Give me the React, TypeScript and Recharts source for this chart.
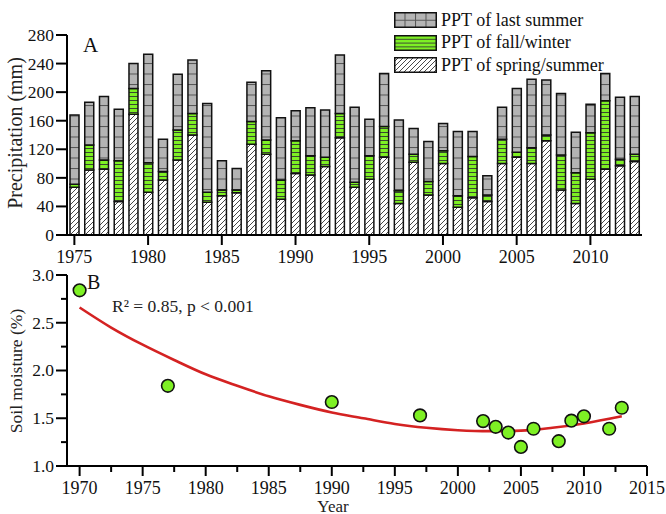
import React from "react";
import {
  BarChart,
  Bar,
  XAxis,
  YAxis,
  Legend,
  ComposedChart,
  Scatter,
  Line,
} from "recharts";

// panel A: seasonal precipitation (mm), stacked
const years = [
  1975, 1976, 1977, 1978, 1979, 1980, 1981, 1982, 1983, 1984, 1985, 1986, 1987,
  1988, 1989, 1990, 1991, 1992, 1993, 1994, 1995, 1996, 1997, 1998, 1999, 2000,
  2001, 2002, 2003, 2004, 2005, 2006, 2007, 2008, 2009, 2010, 2011, 2012, 2013,
];
const springSummer = [
  67, 91, 92, 47, 169, 60, 77, 105, 140, 46, 55, 59, 127, 113, 50, 86, 84, 96,
  136, 67, 78, 109, 44, 102, 56, 100, 39, 52, 47, 100, 109, 100, 132, 63, 44, 78,
  92, 97, 103,
];
const fallWinter = [
  4, 35, 13, 57, 36, 41, 12, 42, 30, 14, 8, 4, 32, 20, 27, 46, 27, 13, 34, 7, 33,
  43, 18, 11, 19, 18, 16, 58, 9, 34, 7, 22, 8, 49, 43, 65, 96, 9, 10,
];
const lastSummer = [
  97, 60, 89, 72, 35, 152, 45, 78, 75, 124, 41, 30, 55, 97, 87, 42, 67, 66, 82,
  105, 51, 74, 99, 36, 56, 38, 90, 35, 27, 45, 89, 96, 77, 86, 57, 40, 38, 87, 81,
];
const precipTicks = [0, 40, 80, 120, 160, 200, 240, 280];
const seriesNames = {
  lastSummer: "PPT of last summer",
  fallWinter: "PPT of fall/winter",
  springSummer: "PPT of spring/summer",
};
const legendOrder = ["lastSummer", "fallWinter", "springSummer"];

// panel B: soil moisture (%) and the fitted curve
const smYears = [
  1970, 1977, 1990, 1997, 2002, 2003, 2004, 2005, 2006, 2008, 2009, 2010, 2012,
  2013,
];
const smValues = [
  2.84, 1.84, 1.67, 1.53, 1.47, 1.41, 1.35, 1.2, 1.39, 1.26, 1.475, 1.52, 1.39,
  1.61,
];
const fitYears = [
  1970, 1972.5, 1975, 1977.5, 1980, 1982.5, 1985, 1987.5, 1990, 1992.5, 1995,
  1997.5, 2000, 2002.5, 2005, 2007.5, 2010, 2013,
];
const fitValues = [
  2.66, 2.45, 2.27, 2.11, 1.96, 1.84, 1.73, 1.64, 1.56, 1.5, 1.44, 1.4, 1.375,
  1.365, 1.37, 1.4, 1.445, 1.52,
];
const yearTicks = [
  1970, 1972.5, 1975, 1977.5, 1980, 1982.5, 1985, 1987.5, 1990, 1992.5, 1995,
  1997.5, 2000, 2002.5, 2005, 2007.5, 2010, 2012.5, 2015,
];
const smTicks = [1, 1.25, 1.5, 1.75, 2, 2.25, 2.5, 2.75, 3];

const SERIF = { fontFamily: "Liberation Serif, Times New Roman, serif" };
const GREEN = "#7ef024";

const barData = years.map((year, i) => ({
  year,
  springSummer: springSummer[i],
  fallWinter: fallWinter[i],
  lastSummer: lastSummer[i],
}));
const smData = smYears.map((year, i) => ({ year, sm: smValues[i] }));
const fitData = fitYears.map((year, i) => ({ year, fit: fitValues[i] }));

// ticks are drawn by hand so the tick marks and labels sit where the figure has them
function BottomTick({ x, y, payload, minor }: any) {
  const v = payload.value;
  const isMinor = minor && v % 5 !== 0;
  return (
    <g>
      <line x1={x} x2={x} y1={y} y2={y + (isMinor ? 6 : 10)} stroke="#000" strokeWidth={2} />
      {!isMinor && (
        <text x={x} y={y + 28} textAnchor="middle" style={SERIF} fontSize={18} fill="#111">
          {v}
        </text>
      )}
    </g>
  );
}

function LeftTick({ x, y, payload, fmt, minorStep }: any) {
  const v = payload.value;
  const isMinor = minorStep ? Math.abs((v / minorStep) % 2) > 0.01 : false;
  return (
    <g>
      <line x1={x} x2={x - (isMinor ? 6 : 11)} y1={y} y2={y} stroke="#000" strokeWidth={2} />
      {!isMinor && (
        <text x={x - 13} y={y} dy="0.34em" textAnchor="end" style={SERIF} fontSize={17.5} fill="#111">
          {fmt ? fmt(v) : v}
        </text>
      )}
    </g>
  );
}

const legendPattern: Record<string, string> = {
  lastSummer: "url(#lgGrid)",
  fallWinter: "url(#lgGreen)",
  springSummer: "url(#hatch)",
};

function PatternLegend({ payload }: any) {
  const items = [...(payload || [])].sort(
    (a: any, b: any) => legendOrder.indexOf(a.dataKey) - legendOrder.indexOf(b.dataKey)
  );
  return (
    <div style={{ ...SERIF, fontSize: 18, color: "#111" }}>
      {items.map((item: any) => (
        <div key={item.dataKey} style={{ display: "flex", alignItems: "center", height: 22.5 }}>
          <svg width={43} height={16} style={{ marginRight: 4 }}>
            <rect x={0.75} y={0.75} width={41.5} height={14.5} fill={legendPattern[item.dataKey]} stroke="#111" strokeWidth={1.5} />
          </svg>
          <span>{item.value}</span>
        </div>
      ))}
    </div>
  );
}

function SoilDot({ cx, cy }: any) {
  return <circle cx={cx} cy={cy} r={6.3} fill={GREEN} stroke="#111" strokeWidth={1.6} />;
}

export default function App() {
  return (
    <div style={{ position: "absolute", left: 0, top: 0, width: 666, height: 514, background: "#fff" }}>
      <div style={{ position: "absolute", left: 0, top: 0 }}>
        <BarChart
          width={666}
          height={272}
          data={barData}
          margin={{ top: 35, right: 24, bottom: 0, left: 0 }}
          barSize={9}
        >
          <defs>
            <pattern id="hatch" patternUnits="userSpaceOnUse" width={5} height={5}>
              <rect width={5} height={5} fill="#fff" />
              <path d="M0,5 L5,0 M-1.25,1.25 L1.25,-1.25 M3.75,6.25 L6.25,3.75" stroke="#333" strokeWidth={0.9} />
            </pattern>
            <pattern id="green" patternUnits="userSpaceOnUse" width={4} height={4}>
              <rect width={4} height={4} fill={GREEN} />
              <line x1={0} x2={4} y1={0.5} y2={0.5} stroke="#333" strokeWidth={0.9} />
            </pattern>
            <pattern id="gray" patternUnits="userSpaceOnUse" width={10} height={10.5}>
              <rect width={10} height={10.5} fill="#b4b4b4" />
              <line x1={0} x2={10} y1={0.5} y2={0.5} stroke="#555" strokeWidth={1} />
            </pattern>
            <pattern id="lgGrid" patternUnits="userSpaceOnUse" width={10.5} height={7.75}>
              <rect width={10.5} height={7.75} fill="#b4b4b4" />
              <path d="M0,0.5 L10.5,0.5 M0.5,0 L0.5,7.75" stroke="#555" strokeWidth={1} />
            </pattern>
            <pattern id="lgGreen" patternUnits="userSpaceOnUse" width={4} height={3.8}>
              <rect width={4} height={3.8} fill={GREEN} />
              <line x1={0} x2={4} y1={0.5} y2={0.5} stroke="#333" strokeWidth={0.9} />
            </pattern>
          </defs>
          <XAxis
            dataKey="year"
            interval={4}
            height={37}
            tickLine={false}
            tickSize={0}
            tickMargin={0}
            axisLine={{ stroke: "#000", strokeWidth: 2 }}
            tick={<BottomTick />}
          />
          <YAxis
            domain={[0, 280]}
            ticks={precipTicks}
            interval={0}
            width={67}
            tickLine={false}
            tickSize={0}
            tickMargin={0}
            axisLine={{ stroke: "#000", strokeWidth: 2 }}
            tick={<LeftTick />}
          />
          <Legend
            layout="vertical"
            align="center"
            verticalAlign="middle"
            wrapperStyle={{ top: 9, left: 394, width: 272, height: 70 }}
            content={<PatternLegend />}
          />
          <Bar dataKey="springSummer" name={seriesNames.springSummer} stackId="a" fill="url(#hatch)" stroke="#111" strokeWidth={1.5} isAnimationActive={false} />
          <Bar dataKey="fallWinter" name={seriesNames.fallWinter} stackId="a" fill="url(#green)" stroke="#111" strokeWidth={1.5} isAnimationActive={false} />
          <Bar dataKey="lastSummer" name={seriesNames.lastSummer} stackId="a" fill="url(#gray)" stroke="#111" strokeWidth={1.5} isAnimationActive={false} />
          <text x={83} y={52} style={SERIF} fontSize={21} fill="#111">A</text>
          <text
            x={22}
            y={133}
            transform="rotate(-90 22 133)"
            textAnchor="middle"
            style={SERIF}
            fontSize={20}
            fill="#222"
          >
            Precipitation (mm)
          </text>
        </BarChart>
      </div>

      <div style={{ position: "absolute", left: 0, top: 250 }}>
        <ComposedChart
          width={666}
          height={264}
          margin={{ top: 25, right: 19, bottom: 0, left: 0 }}
        >
          <XAxis
            dataKey="year"
            type="number"
            domain={[1969, 2015]}
            ticks={yearTicks}
            interval={0}
            height={48}
            tickLine={false}
            tickSize={0}
            tickMargin={0}
            axisLine={{ stroke: "#000", strokeWidth: 2 }}
            tick={<BottomTick minor />}
          />
          <YAxis
            type="number"
            domain={[1, 3]}
            ticks={smTicks}
            interval={0}
            width={67}
            tickLine={false}
            tickSize={0}
            tickMargin={0}
            axisLine={{ stroke: "#000", strokeWidth: 2 }}
            tick={<LeftTick minorStep={0.25} fmt={(v: number) => v.toFixed(1)} />}
          />
          <Line
            data={fitData}
            dataKey="fit"
            type="monotone"
            stroke="#d42222"
            strokeWidth={2.6}
            dot={false}
            activeDot={false}
            isAnimationActive={false}
          />
          <Scatter data={smData} dataKey="sm" shape={<SoilDot />} isAnimationActive={false} />
          <text x={87} y={39} style={SERIF} fontSize={20} fill="#111">B</text>
          <text x={112} y={62} style={SERIF} fontSize={17.5} fill="#222">
            R² = 0.85, p &lt; 0.001
          </text>
          <text
            x={22}
            y={121}
            transform="rotate(-90 22 121)"
            textAnchor="middle"
            style={SERIF}
            fontSize={17.5}
            fill="#222"
          >
            Soil moisture (%)
          </text>
          <text x={333} y={262} textAnchor="middle" style={SERIF} fontSize={17} fill="#222">
            Year
          </text>
        </ComposedChart>
      </div>
    </div>
  );
}
